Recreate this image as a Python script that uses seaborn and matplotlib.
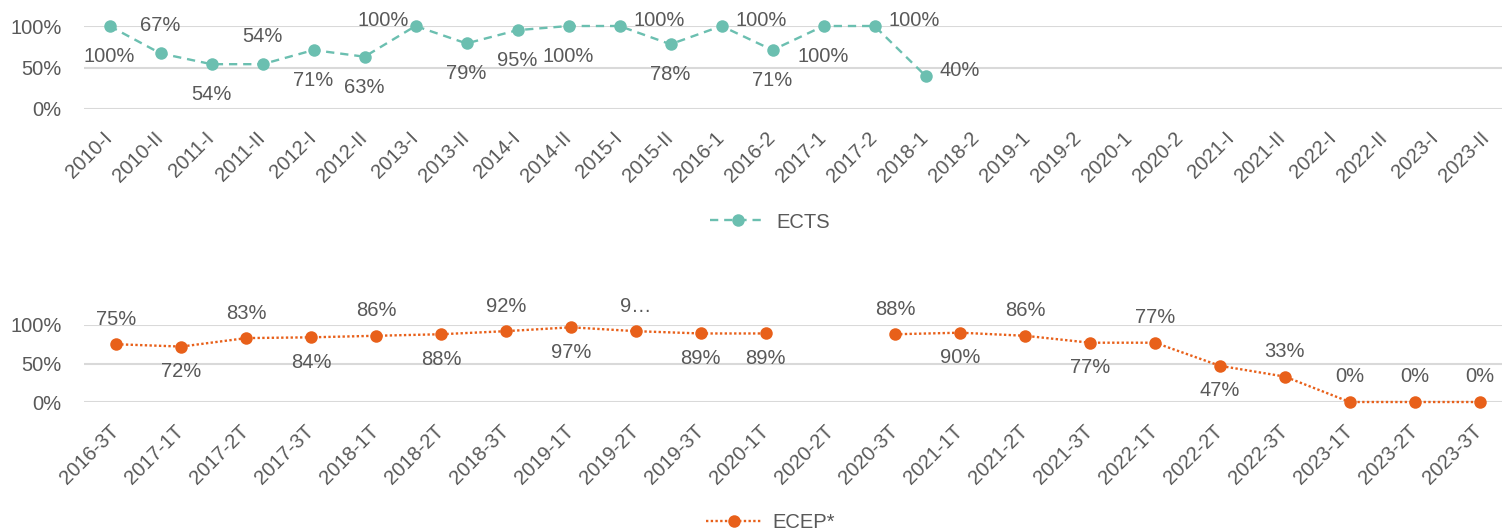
# -*- coding: utf-8 -*-
'''
Tasa de aprobación por periodo: ECTS y ECEP*
'''

import numpy as np
import pandas as pd
import seaborn as sns
import matplotlib.pyplot as plt
from matplotlib import font_manager
from matplotlib.lines import Line2D

# data
ects_periods = ['2010-I', '2010-II', '2011-I', '2011-II', '2012-I', '2012-II',
                '2013-I', '2013-II', '2014-I', '2014-II', '2015-I', '2015-II',
                '2016-1', '2016-2', '2017-1', '2017-2', '2018-1', '2018-2',
                '2019-1', '2019-2', '2020-1', '2020-2', '2021-I', '2021-II',
                '2022-I', '2022-II', '2023-I', '2023-II']
ects_values = [100, 67, 54, 54, 71, 63, 100, 79, 95, 100, 100, 78, 100, 71,
               100, 100, 40, np.nan, np.nan, np.nan, np.nan, np.nan, np.nan,
               np.nan, np.nan, np.nan, np.nan, np.nan]

ecep_periods = ['2016-3T', '2017-1T', '2017-2T', '2017-3T', '2018-1T', '2018-2T',
                '2018-3T', '2019-1T', '2019-2T', '2019-3T', '2020-1T', '2020-2T',
                '2020-3T', '2021-1T', '2021-2T', '2021-3T', '2022-1T', '2022-2T',
                '2022-3T', '2023-1T', '2023-2T', '2023-3T']
ecep_values = [75, 72, 83, 84, 86, 88, 92, 97, 92, 89, 89, np.nan, 88, 90,
               86, 77, 77, 47, 33, 0, 0, 0]

# where each data label sits (as in the original Excel chart)
ects_label_pos = ['below', 'above', 'below', 'above', 'below', 'below', 'left',
                  'below', 'below', 'below', 'right', 'below', 'right', 'below',
                  'below', 'right', 'right']
ecep_label_pos = ['above', 'below', 'above', 'below', 'above', 'below', 'above',
                  'below', 'above', 'below', 'below', None, 'above', 'below',
                  'above', 'below', 'above', 'below', 'above', 'above', 'above',
                  'above']
ecep_label_text = {8: '9\u2026'}  # truncated label in the original

TEAL = '#6bbfb0'
ORANGE = '#e8601a'
GREY = '#595959'
GRID = '#d9d9d9'

sns.set_theme(style='white')

# the original text looks tall and narrow -> use the narrow face if present
installed = {f.name for f in font_manager.fontManager.ttflist}
if 'Liberation Sans Narrow' in installed:
    plt.rcParams['font.family'] = ['Liberation Sans Narrow', 'DejaVu Sans']
    FS = 16.5
else:
    plt.rcParams['font.family'] = ['Liberation Sans', 'DejaVu Sans']
    FS = 14.5


def panel(ax, periods, values, label_pos, color, ls, off_above, off_below,
          texts=None):
    '''
    draws one line chart with data labels on ax
    '''
    texts = texts or {}
    df = pd.DataFrame({'x': np.arange(len(periods)), 'value': values})
    # separate segment after each gap so the line breaks there
    df['segment'] = df['value'].isna().cumsum()
    df = df.dropna()

    sns.lineplot(data=df, x='x', y='value', units='segment', estimator=None,
                 color=color, linestyle=ls, linewidth=1.7, marker='o',
                 markersize=9, markeredgewidth=0, clip_on=False, ax=ax,
                 zorder=3)

    for x, v in zip(df['x'], df['value']):
        pos = label_pos[x] if x < len(label_pos) else None
        if pos is None:
            continue
        txt = texts.get(x, f'{v:.0f}%')
        if pos == 'above':
            kw = dict(xytext=(0, off_above), ha='center')
        elif pos == 'below':
            kw = dict(xytext=(0, -off_below), ha='center')
        elif pos == 'right':
            kw = dict(xytext=(10, 4), ha='left')
        else:
            kw = dict(xytext=(-5, 4), ha='right')
        ax.annotate(txt, (x, v), textcoords='offset points', va='center',
                    fontsize=FS, color=GREY, annotation_clip=False, **kw)

    ax.set_xlim(-0.5, len(periods) - 0.5)
    ax.set_ylim(0, 100)
    ax.set_yticks([0, 50, 100])
    ax.set_yticklabels(['0%', '50%', '100%'])
    ax.set_xticks(np.arange(len(periods)))
    ax.set_xticklabels(periods, rotation=45, ha='right', va='center',
                       rotation_mode='anchor')
    ax.tick_params(axis='x', length=0, pad=19, labelsize=FS, labelcolor=GREY)
    ax.tick_params(axis='y', length=0, pad=16, labelsize=FS, labelcolor=GREY)
    ax.yaxis.grid(True, color=GRID, linewidth=1.5)
    ax.xaxis.grid(False)
    ax.set_axisbelow(True)
    ax.set(xlabel='', ylabel='')
    sns.despine(ax=ax, left=True, bottom=True)


fig = plt.figure(figsize=(15.02, 5.32), dpi=100)
left = 84 / 1502
width = (1512 - 84) / 1502
ax1 = fig.add_axes([left, 1 - 109 / 532, width, 83 / 532])
ax2 = fig.add_axes([left, 1 - 402 / 532, width, 77 / 532])

ects_ls = (0, (3.5, 2.5))
ecep_ls = (0, (1, 1))

panel(ax1, ects_periods, ects_values, ects_label_pos, TEAL, ects_ls, 20, 22)
panel(ax2, ecep_periods, ecep_values, ecep_label_pos, ORANGE, ecep_ls, 18, 18,
      ecep_label_text)

for name, color, ls, y in [('ECTS', TEAL, ects_ls, 1 - 222 / 532),
                           ('ECEP*', ORANGE, ecep_ls, 1 - 523 / 532)]:
    h = Line2D([], [], color=color, linestyle=ls, linewidth=1.7, marker='o',
               markersize=9, markeredgewidth=0)
    fig.legend(handles=[h], labels=[name], loc='center',
               bbox_to_anchor=(770 / 1502, y), frameon=False, handlelength=2.8,
               handletextpad=0.5, fontsize=FS, labelcolor=GREY)

fig.savefig('out.png', dpi=100)
